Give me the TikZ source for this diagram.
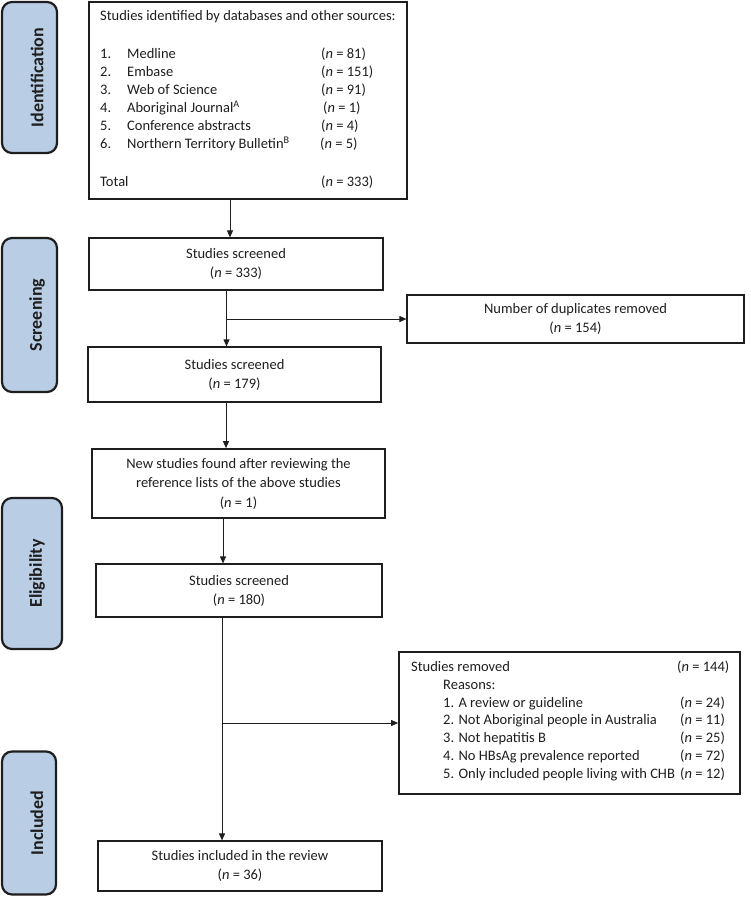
\documentclass[tikz,border=0pt]{standalone}
\usepackage{fontspec}
\setmainfont{Carlito}
\usetikzlibrary{arrows.meta}
\definecolor{stageblue}{RGB}{185,205,229}
\definecolor{ink}{RGB}{30,30,30}
\newcommand\nval[1]{(\textit{n}~=~#1)}
\begin{document}
\begin{tikzpicture}[x=1pt,y=-1pt,
 box/.style={draw=ink, line width=1.2pt, rectangle, inner sep=0pt, align=center, font=\fontsize{14.5}{19}\selectfont, text=ink},
 stage/.style={draw=ink, line width=2.2pt, rounded corners=10pt, fill=stageblue, inner sep=0pt},
 stagetext/.style={rotate=90, font=\fontsize{18}{20}\selectfont\bfseries, text=ink, inner sep=0pt},
 arr/.style={draw=ink, line width=0.9pt, -{Triangle[length=7pt,width=6pt]}},
 ln/.style={draw=ink, line width=0.9pt},
 txt/.style={inner sep=0pt, anchor=base west, text=ink}]
\useasboundingbox (0,0) rectangle (750,897);
% stage labels
\node[stage, minimum width=55pt, minimum height=151pt] (idS) at (29.5,77.5) {};
\node[stagetext] (idT) at (37,77.5) {Identification};
\node[stage, minimum width=55pt, minimum height=154pt] (scS) at (29.5,315) {};
\node[stagetext] (scT) at (37,315) {Screening};
\node[stage, minimum width=60pt, minimum height=151pt] (elS) at (32,573.5) {};
\node[stagetext] (elT) at (37,573.5) {Eligibility};
\node[stage, minimum width=54pt, minimum height=143pt] (inS) at (29,823) {};
\node[stagetext] (inT) at (37,823) {Included};
% boxes
\node[box, line width=2pt, minimum width=318pt, minimum height=197pt] (top) at (248,100.5) {};
\node[txt] (toplist) at (100,20.5) {\fontsize{14.5}{18.1}\selectfont
\begin{tabular}[t]{@{}p{27pt}@{}p{194pt}@{}l@{}}
\multicolumn{3}{@{}l@{}}{Studies identified by databases and other sources:}\\[19.4pt]
1. & Medline & \nval{81}\\
2. & Embase & \nval{151}\\
3. & Web of Science & \nval{91}\\
4. & Aboriginal Journal\textsuperscript{A} & \hspace{2pt}\nval{1}\\
5. & Conference abstracts & \nval{4}\\
6. & Northern Territory Bulletin\textsuperscript{B} & \hspace{-1pt}\nval{5}\\[19.4pt]
\multicolumn{2}{@{}l@{}}{Total} & \nval{333}
\end{tabular}};
\node[box, minimum width=294pt, minimum height=52pt] (s333) at (236,264) {Studies screened\\\nval{333}};
\node[box, minimum width=337pt, minimum height=48pt] (dup) at (575.5,319) {Number of duplicates removed\\\nval{154}};
\node[box, minimum width=293pt, minimum height=55pt] (s179) at (234.5,374.5) {Studies screened\\\nval{179}};
\node[box, line width=1.7pt, minimum width=293pt, minimum height=69pt, font=\fontsize{14.5}{19.5}\selectfont] (new) at (238.5,483.5) {New studies found after reviewing the\\reference lists of the above studies\\\nval{1}};
\node[box, minimum width=286pt, minimum height=53pt] (s180) at (239,590.5) {Studies screened\\\nval{180}};
\node[box, line width=1.7pt, minimum width=341pt, minimum height=142pt] (rem) at (569.5,723) {};
\node[txt] (remlist) at (411,671.5) {\fontsize{14.5}{17.8}\selectfont
\begin{tabular}[t]{@{}p{32pt}@{}p{234pt}@{}l@{}}
\multicolumn{2}{@{}p{266pt}@{}}{Studies removed} & \nval{144}\\
 & Reasons: & \\
 & 1. A review or guideline & \hspace{3pt}\nval{24}\\
 & 2. Not Aboriginal people in Australia & \hspace{3pt}\nval{11}\\
 & 3. Not hepatitis B & \hspace{3pt}\nval{25}\\
 & 4. No HBsAg prevalence reported & \hspace{3pt}\nval{72}\\
 & 5. Only included people living with CHB & \hspace{3pt}\nval{12}
\end{tabular}};
\node[box, minimum width=284pt, minimum height=50pt] (inc) at (240,866) {Studies included in the review\\\nval{36}};
% connectors
\coordinate (c1) at (230,0);
\coordinate (c2) at (226.5,0);
\coordinate (c3) at (226,0);
\coordinate (c4) at (223,0);
\coordinate (c5) at (222,0);
\draw[arr] (top.south -| c1) -- (s333.north -| c1);
\draw[arr] (s333.south -| c2) -- (s179.north -| c2);
\draw[arr] (c2 |- dup.west) -- (dup.west);
\draw[arr] (s179.south -| c3) -- (new.north -| c3);
\draw[arr] (new.south -| c4) -- (s180.north -| c4);
\draw[arr] (s180.south -| c5) -- (inc.north -| c5);
\draw[arr] (c5 |- rem.west) -- (rem.west);
\end{tikzpicture}
\end{document}
